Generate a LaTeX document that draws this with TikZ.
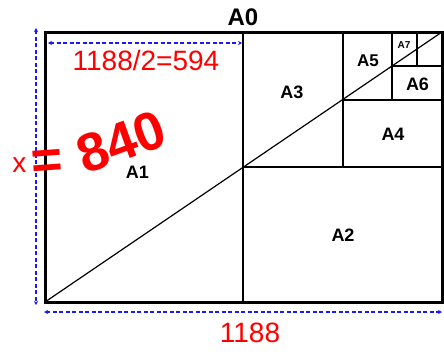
\documentclass[tikz,border=0pt]{standalone}
\usepackage{fontspec}
\setmainfont{Liberation Sans}
\usetikzlibrary{arrows.meta,positioning,calc}
\usepackage{xcolor}
\definecolor{DimBlue}{RGB}{25,25,255}
\definecolor{NoteRed}{RGB}{255,0,0}
\newcommand{\pxfont}[1]{\fontsize{#1}{#1}\selectfont}
\tikzset{
  sheet/.style={draw=black,line width=2pt},
  sheetedge/.style={draw=black,line width=3pt},
  slabel/.style={font=\pxfont{18}\bfseries,inner sep=0pt},
  dimline/.style={{Stealth[length=4pt,width=4pt]}-{Stealth[length=4pt,width=4pt]},
                  DimBlue,line width=1.2pt,dash pattern=on 4pt off 2.5pt},
  note/.style={NoteRed,font=\pxfont{28},inner sep=0pt},
  scrawl/.style={NoteRed,font=\pxfont{54}\bfseries,inner sep=0pt},
}
\begin{document}
\begin{tikzpicture}[x=1pt,y=-1pt]
  \useasboundingbox (0,0) rectangle (444,351);
  % sheet corners
  \coordinate (bl) at (45,302);
  \coordinate (tr) at (442,32);
  % halving cuts
  \draw[sheet] (243,32) -- (243,302);
  \draw[sheet] (243,167) -- (442,167);
  \draw[sheet] (343,32) -- (343,167);
  \draw[sheet] (343,100) -- (442,100);
  \draw[sheet] (392,32) -- (392,100);
  \draw[sheet] (392,66) -- (442,66);
  \draw[sheet] (417,32) -- (417,66);
  \draw[line width=1.2pt] (bl) -- (tr);
  \draw[sheetedge] (45,32) rectangle (442,302);
  % sizes
  \node[slabel,font=\pxfont{24}\bfseries] (a0) at (243,17) {A0};
  \node[slabel] (a1) at (137.5,172) {A1};
  \node[slabel] (a2) at (343,235) {A2};
  \node[slabel] (a3) at (292,92) {A3};
  \node[slabel] (a4) at (393,134.5) {A4};
  \node[slabel,font=\pxfont{17}\bfseries] (a5) at (368,61) {A5};
  \node[slabel] (a6) at (417.5,84.5) {A6};
  \node[slabel,font=\pxfont{10}\bfseries] (a7) at (404,45) {A7};
  % dimensions
  \coordinate (vtop) at (36,28);
  \coordinate (vbot) at (36,305);
  \coordinate (hleft) at (44,312);
  \coordinate (hright) at (442,312);
  \coordinate (ileft) at (48,43);
  \coordinate (iright) at (242,43);
  \draw[dimline] (vtop) -- (vbot);
  \draw[dimline] (hleft) -- (hright);
  \draw[dimline] (ileft) -- (iright);
  \node[note] (half) at (146,60) {1188/2=594};
  \node[note] (long) at (250,333) {1188};
  % handwritten x = 840
  \node[note] (xvar) at (19.5,165) {x};
  \node[scrawl,rotate=4] (eq) at (47,164) {=};
  \node[scrawl,rotate=20] (short) at (121,142) {840};
\end{tikzpicture}
\end{document}
